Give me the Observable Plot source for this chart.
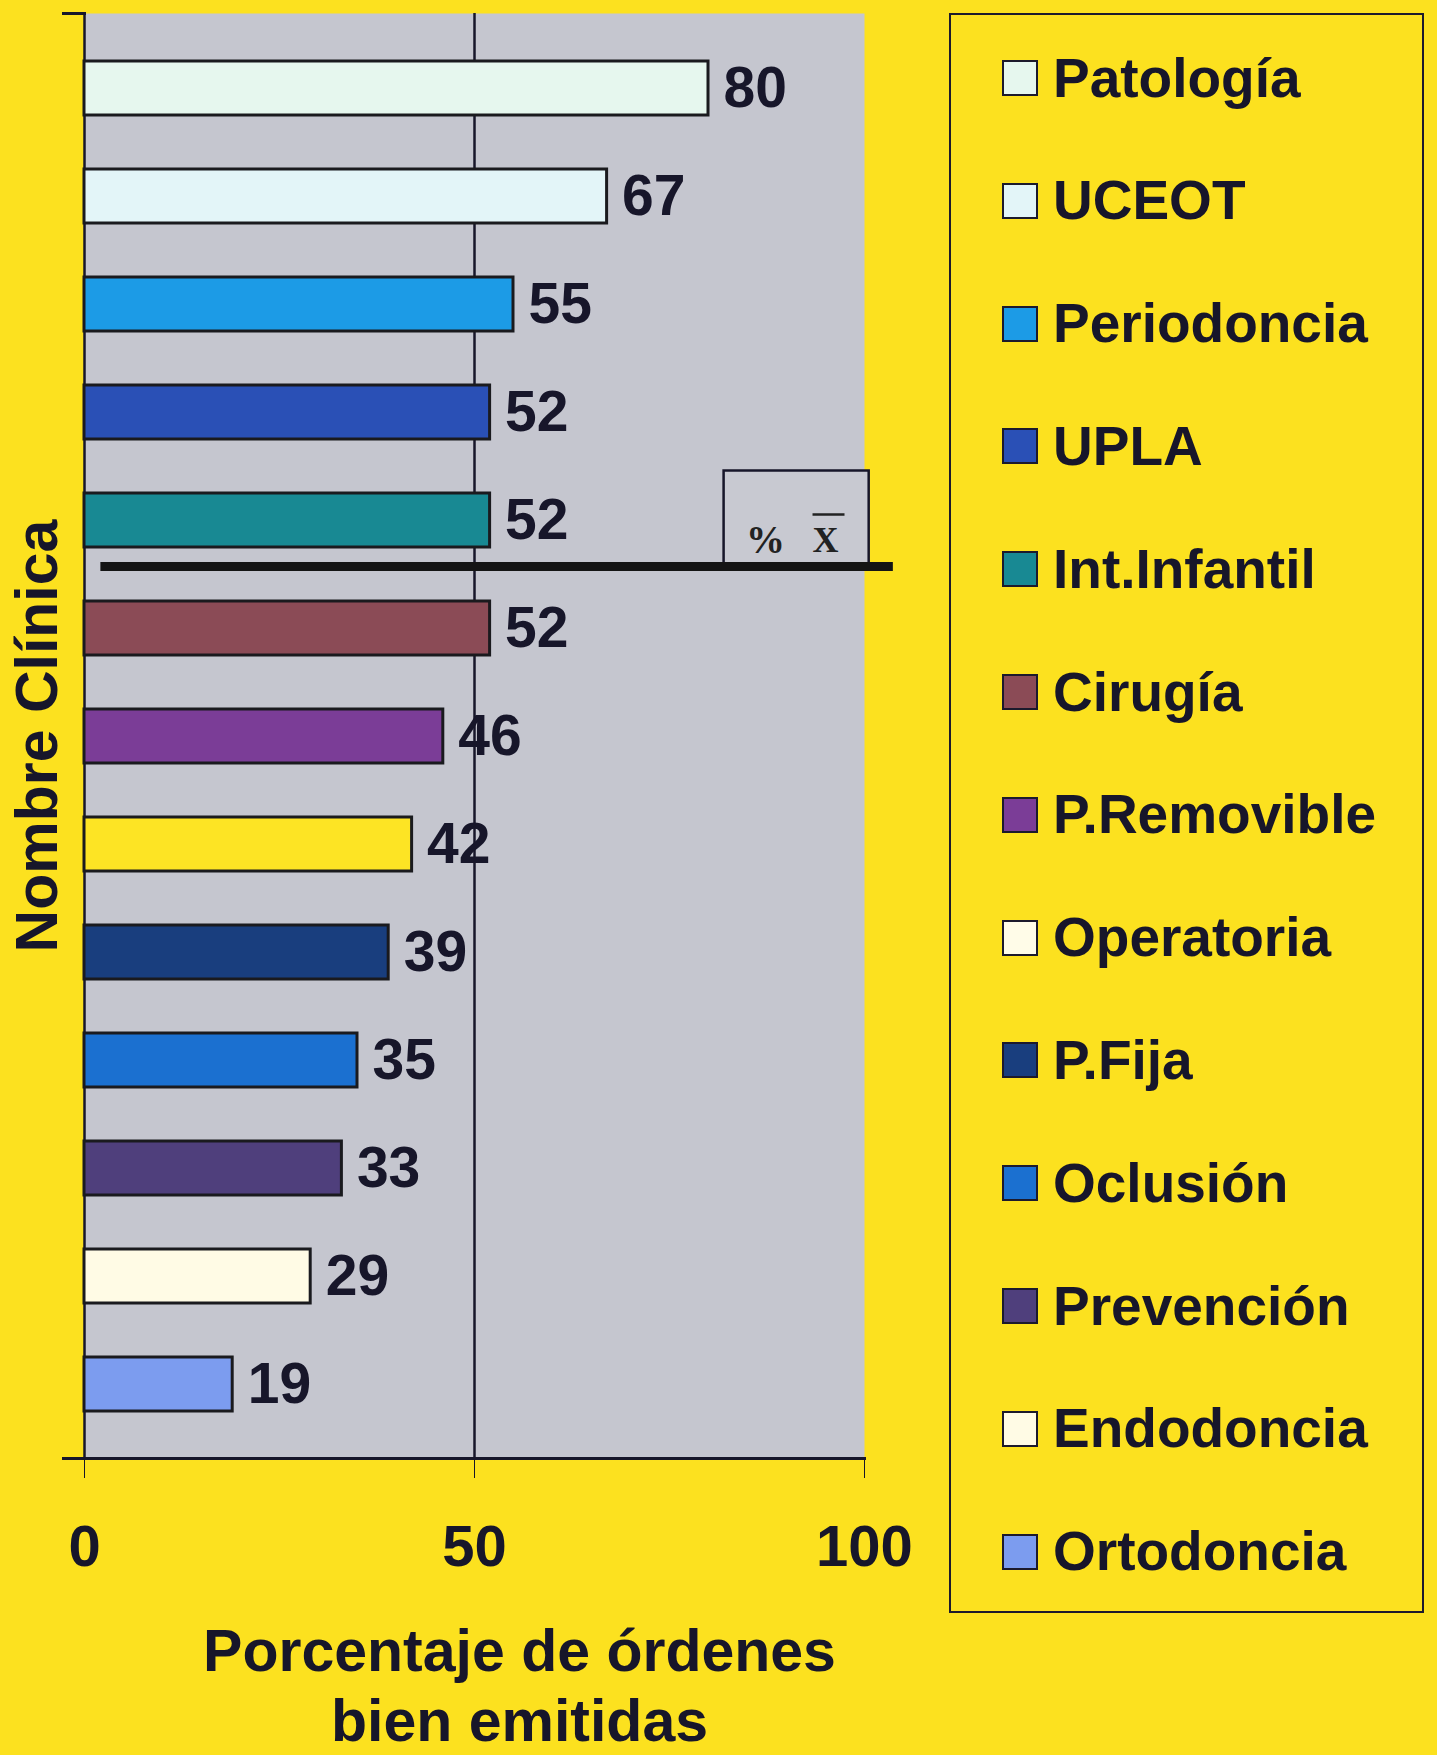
<!DOCTYPE html>
<html>
<head>
<meta charset="utf-8">
<script src="https://cdn.jsdelivr.net/npm/d3@7"></script>
<script src="https://cdn.jsdelivr.net/npm/@observablehq/plot@0.6"></script>
<style>
  html, body { margin: 0; padding: 0; background: #fce11f; }
  #wrap { position: relative; width: 1437px; height: 1755px; overflow: hidden; background: #fce11f; font-family: "Liberation Sans", Arial, sans-serif; }
  #chart { position: absolute; left: 0; top: 0; }
  #legend { position: absolute; left: 949px; top: 13px; width: 475px; height: 1600px; border: 2.5px solid #1c1a2c; box-sizing: border-box; }
  .item { position: absolute; left: 51px; height: 40px; display: flex; align-items: center; transform: translateY(-50%); }
  .sw { width: 36px; height: 36px; border: 2.5px solid #1c1a2c; box-sizing: border-box; margin-right: 15px; flex: none; }
  .lab { font-weight: bold; font-size: 55px; color: #17162a; white-space: nowrap; line-height: 1; }
</style>
</head>
<body>
<div id="wrap">
  <div id="chart"></div>
  <div id="legend"></div>
</div>
<script>
// ---- Data ----
const clinicas = ["Patología", "UCEOT", "Periodoncia", "UPLA", "Int.Infantil", "Cirugía", "P.Removible", "Operatoria", "P.Fija", "Oclusión", "Prevención", "Endodoncia", "Ortodoncia"];
const porcentajes = [80, 67, 55, 52, 52, 52, 46, 42, 39, 35, 33, 29, 19];
const coloresBarras = ["#e6f7ee", "#e3f5f8", "#1c9be6", "#2a50b6", "#188993", "#8b4b56", "#7b3d97", "#fde424", "#193e7e", "#1b70d0", "#4f3f7c", "#fffbe5", "#7c9cef"];
const coloresLeyenda = ["#e6f7ee", "#e3f5f8", "#1c9be6", "#2a50b6", "#188993", "#8b4b56", "#7b3d97", "#fffce8", "#193e7e", "#1b70d0", "#4f3f7c", "#fffbe5", "#7c9cef"];
const ticksX = [0, 50, 100];
const tituloX = "Porcentaje de órdenes\nbien emitidas";
const tituloY = "Nombre Clínica";
// mean marker annotation (data units on x, anchored to the band where the mean falls)
const categoriaMedia = "Int.Infantil";
const etiquetaPct = "%";
const etiquetaMedia = "X";
const lineaMedia = {x1: 2.1, x2: 103.7};
const cajaMedia = {x1: 82, x2: 100.6};
const posPct = 87.3;
const posX = 95.0;
const barraX = {x1: 93.4, x2: 97.5};

const data = clinicas.map((c, i) => ({clinica: c, valor: porcentajes[i]}));

const ink = "#17162a";
const chart = Plot.plot({
  width: 940,
  height: 1755,
  marginLeft: 84,
  marginRight: 76,
  marginTop: 13,
  marginBottom: 297,
  style: {background: "transparent", fontFamily: "'Liberation Sans', Arial, sans-serif", fontWeight: "bold", fontSize: "58px", color: ink, overflow: "visible"},
  x: {domain: [0, 100], ticks: ticksX, tickSize: 20, tickPadding: 46, label: null},
  y: {domain: clinicas, axis: null, paddingInner: 0.5, paddingOuter: 0.38},
  color: {domain: clinicas, range: coloresBarras},
  marks: [
    Plot.frame({fill: "#c5c6cf", stroke: "none"}),
    Plot.frame({anchor: "bottom", stroke: ink, strokeWidth: 3, insetLeft: -21}),
    Plot.frame({anchor: "top", stroke: ink, strokeWidth: 3, insetLeft: -21, insetRight: 780}),
    Plot.ruleX([0, 50], {stroke: ink, strokeWidth: 2.5}),
    Plot.barX(data, {x: "valor", y: "clinica", fill: "clinica", stroke: "#1a1a1e", strokeWidth: 3}),
    Plot.text(data, {x: "valor", y: "clinica", text: d => String(d.valor), textAnchor: "start", dx: 15, fontSize: 57, fontWeight: "bold", fill: ink}),
    Plot.barX([categoriaMedia], {x1: cajaMedia.x1, x2: cajaMedia.x2, y: d => d, insetTop: -22.5, insetBottom: -19, fill: "#c8c9d1", stroke: ink, strokeWidth: 2.5}),
    Plot.ruleY([categoriaMedia], {x1: lineaMedia.x1, x2: lineaMedia.x2, y: d => d, dy: 46, stroke: "#141414", strokeWidth: 9}),
    Plot.text([categoriaMedia], {x: posPct, y: d => d, text: () => etiquetaPct, dy: 20, fontSize: 39, fontFamily: "'Liberation Serif', 'DejaVu Serif', serif", fontWeight: "bold", fill: "#222"}),
    Plot.text([categoriaMedia], {x: posX, y: d => d, text: () => etiquetaMedia, dy: 20, fontSize: 36, fontFamily: "'Liberation Serif', 'DejaVu Serif', serif", fontWeight: "bold", fill: "#222"}),
    Plot.ruleY([categoriaMedia], {x1: barraX.x1, x2: barraX.x2, y: d => d, dy: -6, stroke: "#222", strokeWidth: 2.5}),
    Plot.text([tituloY], {frameAnchor: "left", textAnchor: "middle", rotate: -90, dx: -46, fontSize: 59, fontWeight: "bold", fill: ink}),
    Plot.text([tituloX], {frameAnchor: "bottom", textAnchor: "middle", lineAnchor: "top", dx: 45, dy: 163, fontSize: 59, lineHeight: 1.18, fontWeight: "bold", fill: ink})
  ]
});
document.getElementById("chart").appendChild(chart);

// ---- Legend ----
const legend = document.getElementById("legend");
clinicas.forEach((c, i) => {
  const item = document.createElement("div");
  item.className = "item";
  item.style.top = (63 + i * 122.8) + "px";
  const sw = document.createElement("div");
  sw.className = "sw";
  sw.style.background = coloresLeyenda[i];
  const lab = document.createElement("div");
  lab.className = "lab";
  lab.textContent = c;
  item.appendChild(sw);
  item.appendChild(lab);
  legend.appendChild(item);
});
</script>
</body>
</html>
